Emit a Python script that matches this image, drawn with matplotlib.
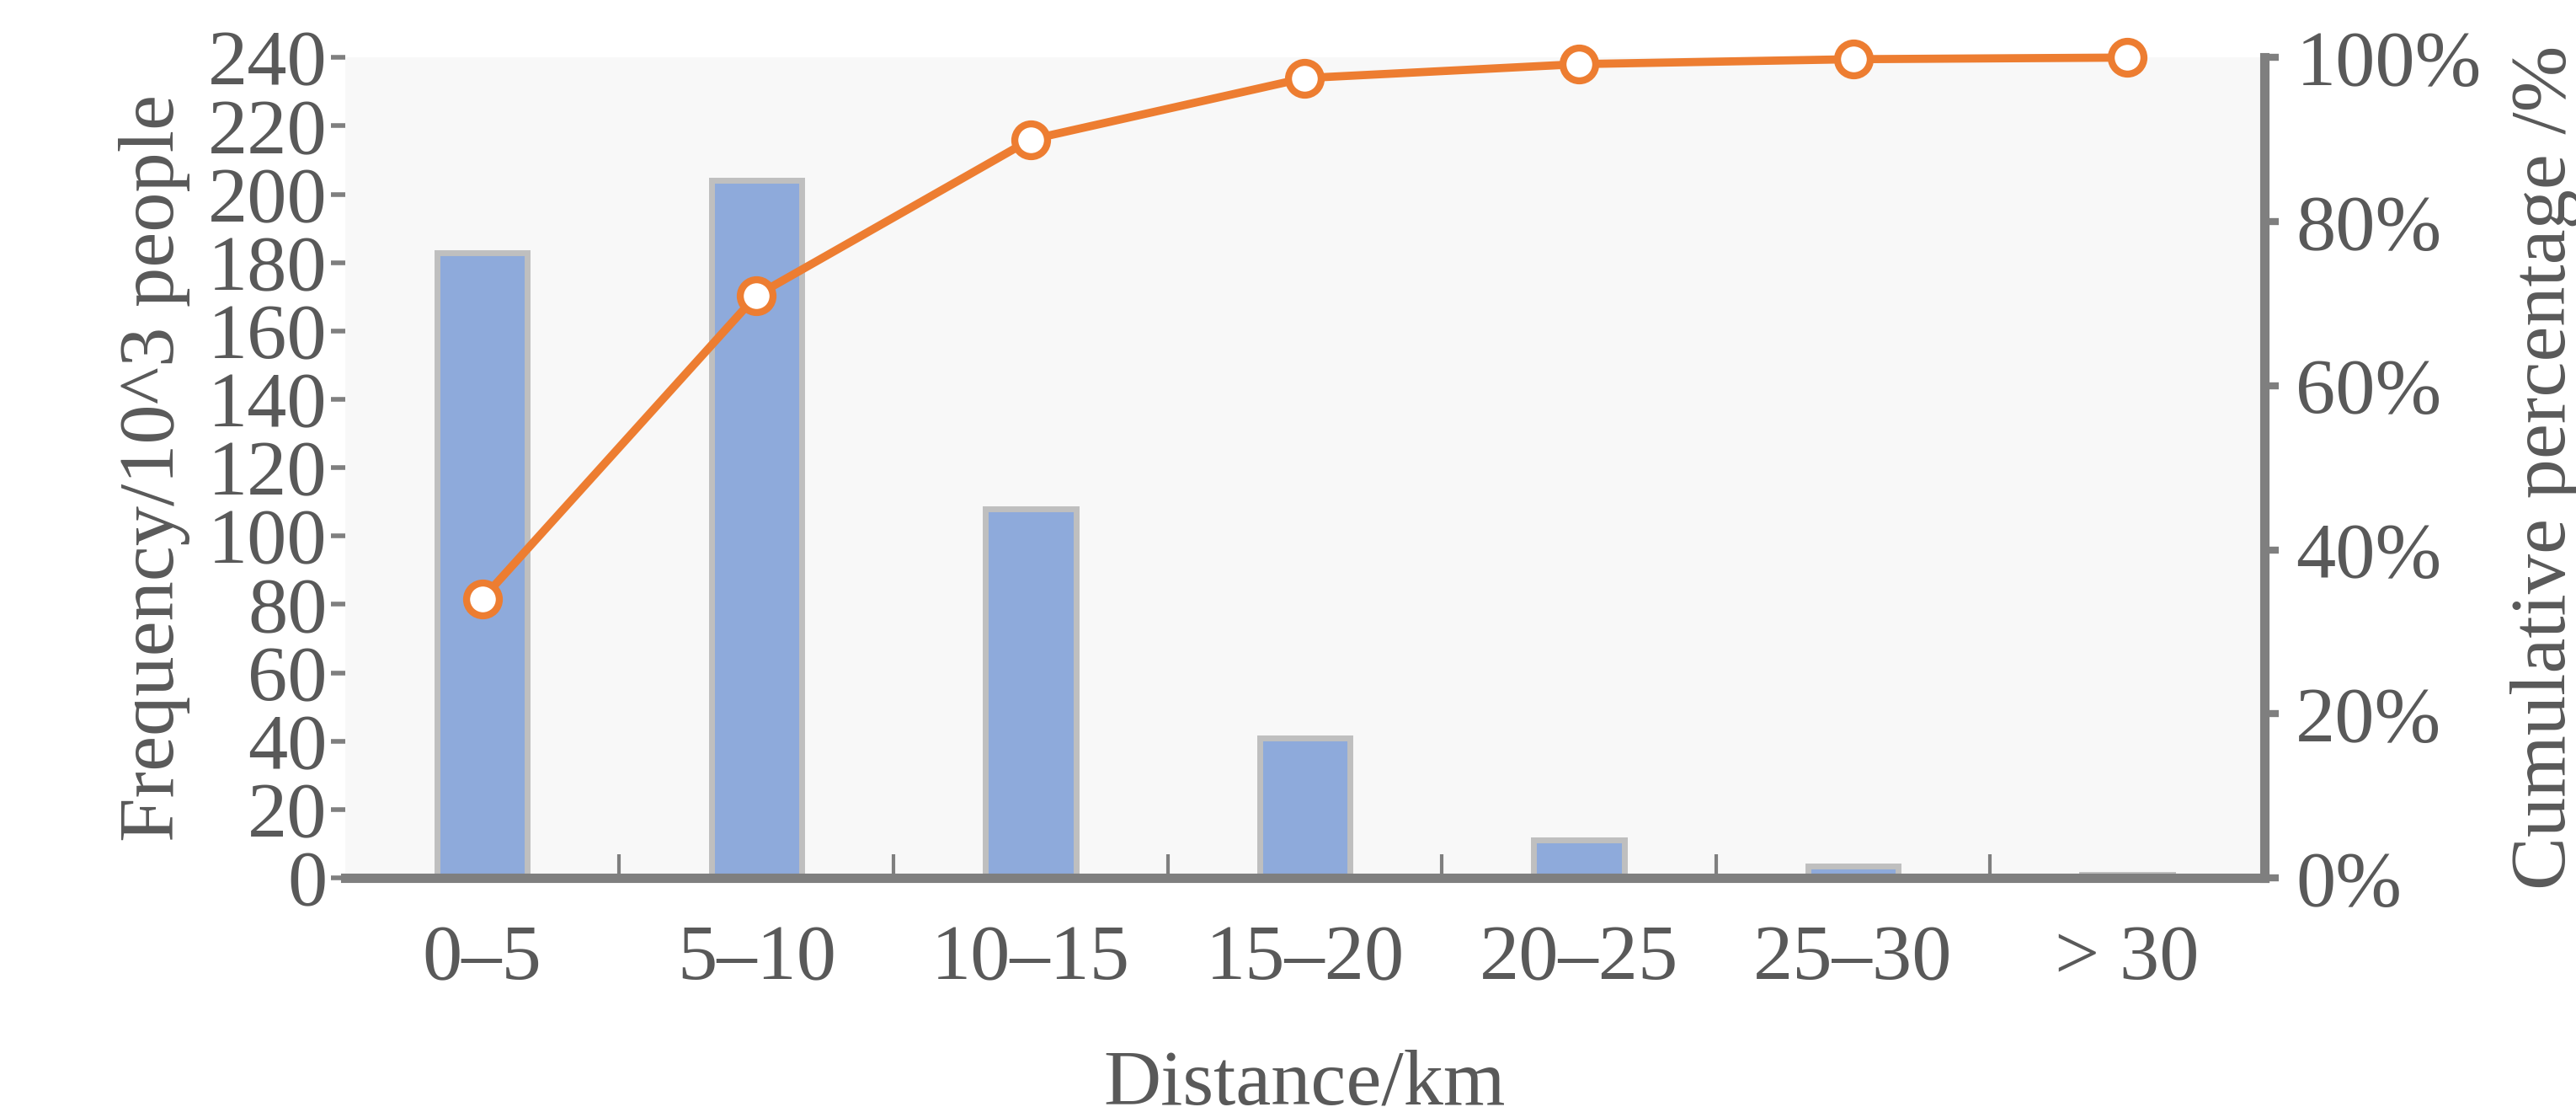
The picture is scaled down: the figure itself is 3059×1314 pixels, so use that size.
import matplotlib.pyplot as plt
from matplotlib.ticker import PercentFormatter

categories = ['0–5', '5–10', '10–15', '15–20', '20–25', '25–30', '> 30']
frequency = [183, 204, 108, 41, 11, 3.5, 1]
cumulative = [34, 71, 90, 97.5, 99.2, 99.8, 100]

plt.rcParams['font.family'] = ['Liberation Serif', 'DejaVu Serif']
grey = '#595959'

fig = plt.figure(figsize=(30.59, 13.14), dpi=100)
ax = fig.add_axes([0.134, 0.207, 0.745, 0.741])
ax.set_facecolor('#f8f8f8')
x = range(len(categories))
ax.bar(x, frequency, width=0.33, color='#8eaadb', edgecolor='#bfbfbf', linewidth=5)
ax.set_xlim(-0.5, len(categories) - 0.5)
ax.set_ylim(0, 240)
ax.set_yticks(range(0, 241, 20))
ax.set_xticks(list(x))
ax.set_xticklabels(categories)
ax.set_xticks([i + 0.5 for i in range(len(categories) - 1)], minor=True)
ax.tick_params(axis='x', which='major', length=0, pad=40)
ax.tick_params(axis='x', which='minor', length=20, width=3, color='#7f7f7f', direction='in')
ax.tick_params(axis='y', length=12, width=4, color='#7f7f7f', direction='out')
ax.tick_params(labelsize=68, labelcolor=grey)
for s in ['top', 'right']:
    ax.spines[s].set_visible(False)
ax.spines['bottom'].set_linewidth(8)
ax.spines['bottom'].set_color('#7f7f7f')
ax.spines['left'].set_visible(False)
ax.set_xlabel('Distance/km', fontsize=68, color=grey, labelpad=45)
ax.set_ylabel('Frequency/10^3 people', fontsize=68, color=grey, labelpad=15)

ax2 = ax.twinx()
ax2.plot(x, cumulative, color='#ed7d31', linewidth=7, marker='o', markersize=28,
         markerfacecolor='white', markeredgewidth=6, markeredgecolor='#ed7d31', clip_on=False)
ax2.set_ylim(0, 100)
ax2.set_yticks(range(0, 101, 20))
ax2.yaxis.set_major_formatter(PercentFormatter(decimals=0))
ax2.tick_params(axis='y', length=12, width=6, color='#7f7f7f', labelsize=68, labelcolor=grey, pad=15)
for s in ['top', 'left', 'bottom']:
    ax2.spines[s].set_visible(False)
ax2.spines['right'].set_linewidth(8)
ax2.spines['right'].set_color('#7f7f7f')
ax2.set_ylabel('Cumulative percentage /%', fontsize=68, color=grey, labelpad=25)

fig.savefig('out.png')
